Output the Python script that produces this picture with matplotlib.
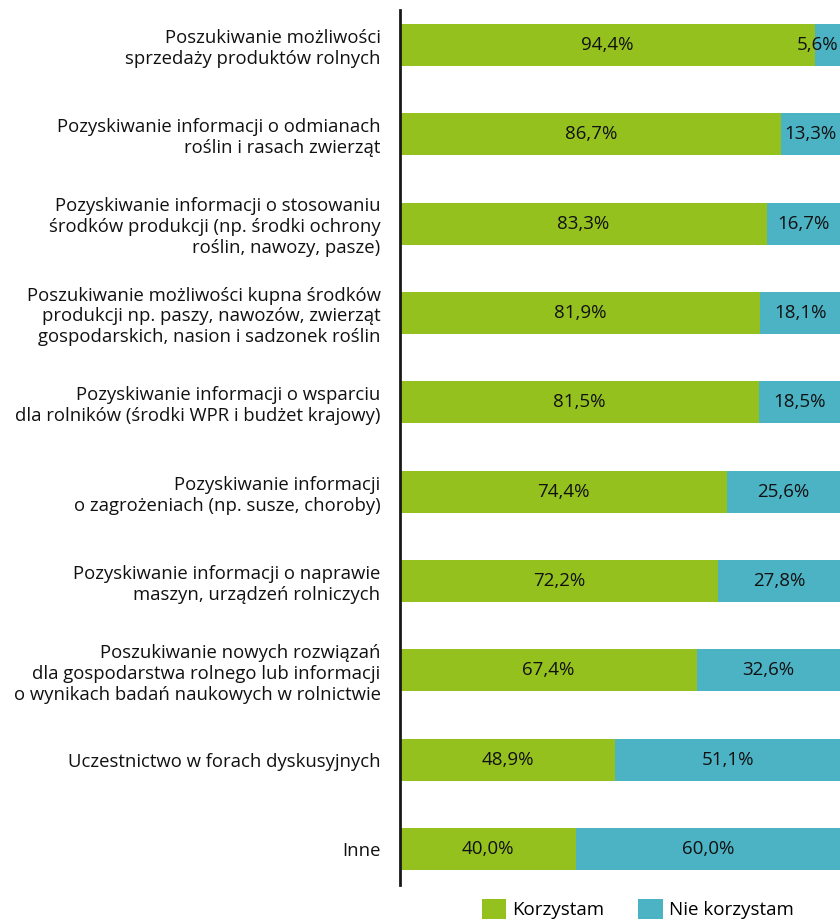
import matplotlib.pyplot as plt
import numpy as np

plt.rcParams['font.family'] = ['Open Sans', 'DejaVu Sans']

#%% Data
categories = [
    'Poszukiwanie możliwości\nsprzedaży produktów rolnych',
    'Pozyskiwanie informacji o odmianach\nroślin i rasach zwierząt',
    'Pozyskiwanie informacji o stosowaniu\nśrodków produkcji (np. środki ochrony\nroślin, nawozy, pasze)',
    'Poszukiwanie możliwości kupna środków\nprodukcji np. paszy, nawozów, zwierząt\ngospodarskich, nasion i sadzonek roślin',
    'Pozyskiwanie informacji o wsparciu\ndla rolników (środki WPR i budżet krajowy)',
    'Pozyskiwanie informacji\no zagrożeniach (np. susze, choroby)',
    'Pozyskiwanie informacji o naprawie\nmaszyn, urządzeń rolniczych',
    'Poszukiwanie nowych rozwiązań\ndla gospodarstwa rolnego lub informacji\no wynikach badań naukowych w rolnictwie',
    'Uczestnictwo w forach dyskusyjnych',
    'Inne',
]
uses = [94.4, 86.7, 83.3, 81.9, 81.5, 74.4, 72.2, 67.4, 48.9, 40.0]
not_uses = [5.6, 13.3, 16.7, 18.1, 18.5, 25.6, 27.8, 32.6, 51.1, 60.0]
series_names = ['Korzystam', 'Nie korzystam']

GREEN = '#95c11f'
BLUE = '#4bb3c4'
TXT = '#111111'

def fmt(v):
    return f'{v:.1f}%'.replace('.', ',')

#%% Plot
fig = plt.figure(figsize=(8.4, 9.23), dpi=100)
ax = fig.add_axes([400 / 840, 1 - 885 / 923, 440 / 840, 875 / 923])

y = np.arange(len(categories))
h = 0.47
ax.barh(y, uses, height=h, color=GREEN, label=series_names[0])
ax.barh(y, not_uses, left=uses, height=h, color=BLUE, label=series_names[1])

for yi, a, b in zip(y, uses, not_uses):
    ax.text(a / 2, yi, fmt(a), ha='center', va='center', fontsize=13.5, color=TXT)
    if b < 10:
        ax.text(99.6, yi, fmt(b), ha='right', va='center', fontsize=13.5, color=TXT)
    else:
        ax.text(a + b / 2, yi, fmt(b), ha='center', va='center', fontsize=13.5, color=TXT)

ax.set_xlim(0, 100)
ax.set_ylim(9.4, -0.39)
ax.set_yticks(y)
ax.set_yticklabels(categories, fontsize=13.3, color=TXT, ha='right', linespacing=1.2)
ax.tick_params(axis='y', length=0, pad=14)
ax.set_xticks([])
for s in ['top', 'right', 'bottom']:
    ax.spines[s].set_visible(False)
ax.spines['left'].set_linewidth(2)
ax.spines['left'].set_color('#1a1a1a')

fig.legend(loc='lower left', bbox_to_anchor=(474 / 840, -0.004), ncol=2, frameon=False,
           fontsize=13.5, handlelength=1.3, handleheight=1.3, handletextpad=0.35,
           columnspacing=1.8, borderaxespad=0)

fig.savefig('out.png', dpi=100)
